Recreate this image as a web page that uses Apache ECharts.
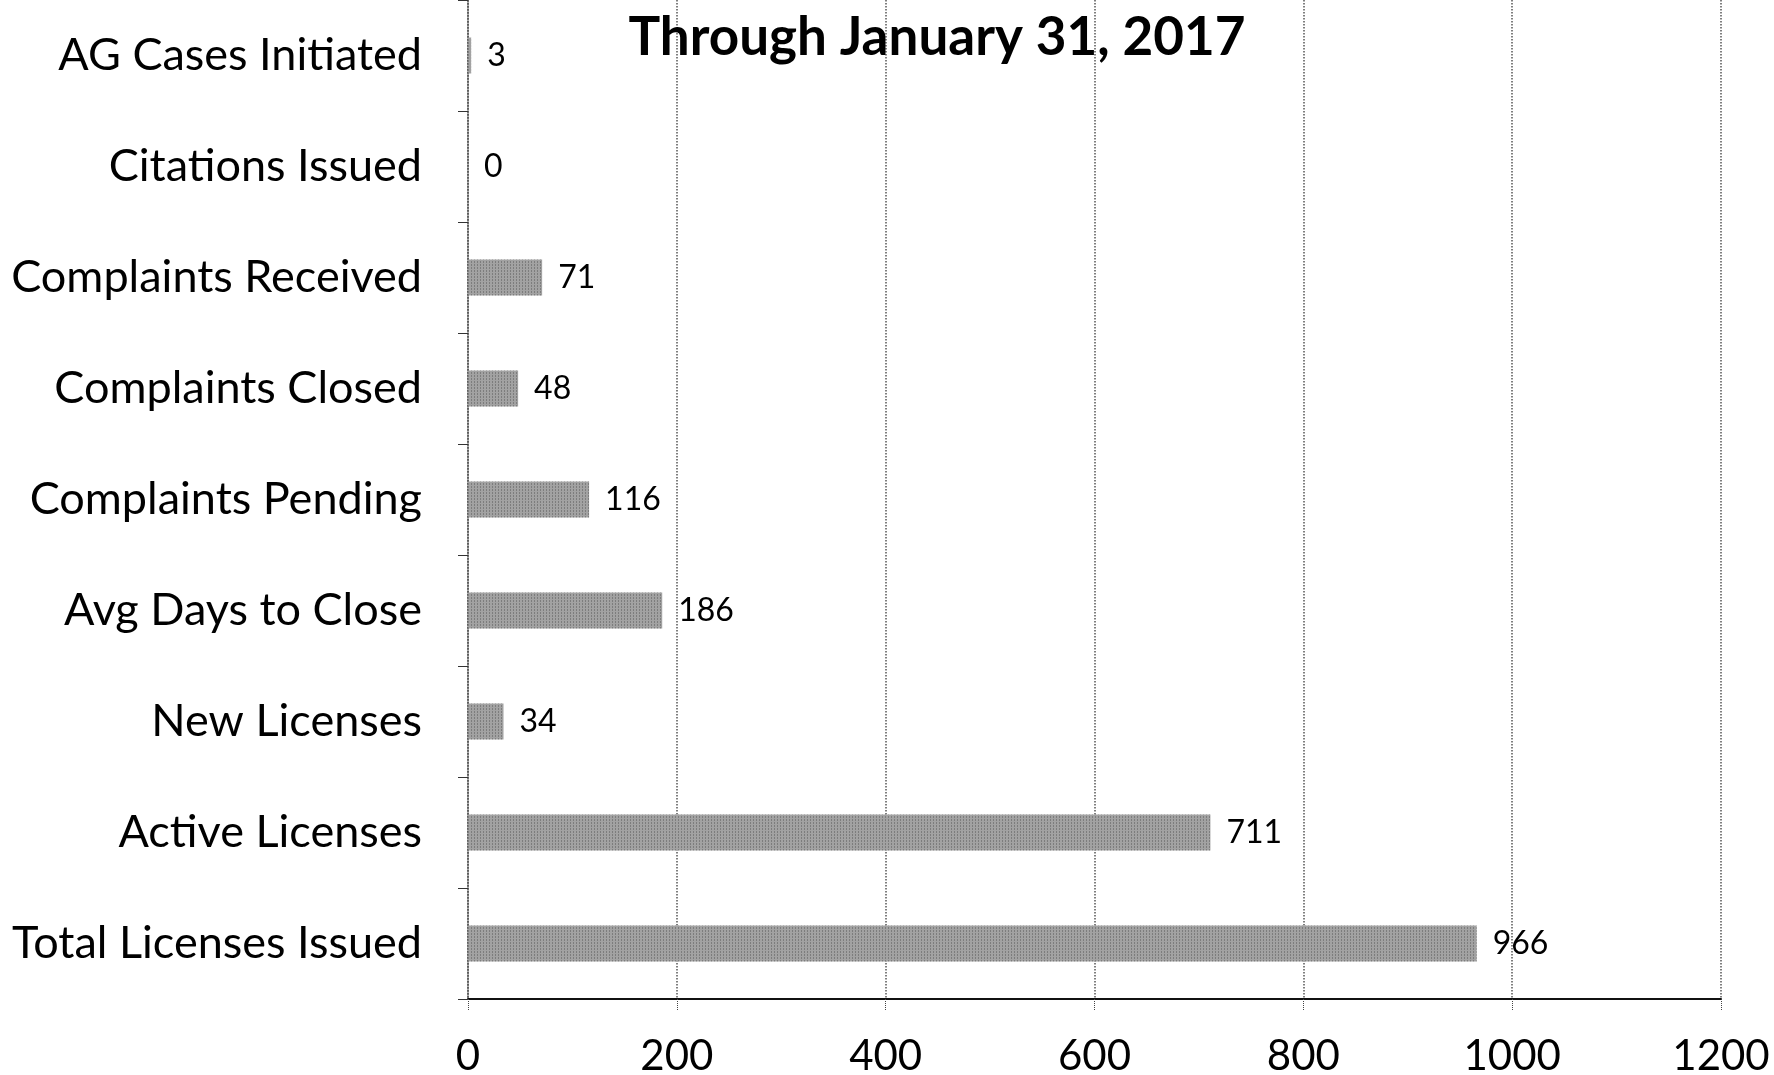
<!DOCTYPE html>
<html>
<head>
<meta charset="utf-8">
<script src="https://cdn.jsdelivr.net/npm/echarts@6/dist/echarts.min.js"></script>
<style>
  html, body { margin: 0; padding: 0; background: #fff; }
  #chart { width: 1774px; height: 1075px; }
</style>
</head>
<body>
<div id="chart"></div>
<script>
const categories = [
  'AG Cases Initiated',
  'Citations Issued',
  'Complaints Received',
  'Complaints Closed',
  'Complaints Pending',
  'Avg Days to Close',
  'New Licenses',
  'Active Licenses',
  'Total Licenses Issued'
];
const values = [3, 0, 71, 48, 116, 186, 34, 711, 966];
const xTicks = [0, 200, 400, 600, 800, 1000, 1200];

var chartDom = document.getElementById('chart');
var myChart = echarts.init(chartDom);
var option;

option = {
  animation: false,
  backgroundColor: '#fff',
  title: {
    text: 'Through January 31, 2017',
    left: 932,
    top: 6,
    textAlign: 'center',
    textStyle: {
      fontFamily: 'Lato',
      fontWeight: 'bold',
      fontSize: 53,
      color: '#000'
    }
  },
  grid: {
    left: 468,
    right: 53,
    top: 0,
    bottom: 76,
    outerBoundsMode: 'none'
  },
  xAxis: {
    type: 'value',
    min: xTicks[0],
    max: xTicks[xTicks.length - 1],
    interval: 200,
    axisLine: { show: true, lineStyle: { color: '#111', width: 2 } },
    axisTick: { show: true, length: 12, lineStyle: { color: '#444', type: 'dotted' } },
    axisLabel: {
      fontFamily: 'Lato',
      fontSize: 42,
      color: '#000',
      margin: 36,
      formatter: function (v) { return String(v); }
    },
    splitLine: {
      show: true,
      lineStyle: { color: '#555', width: 1.5, type: 'dotted' }
    }
  },
  yAxis: {
    type: 'category',
    inverse: true,
    data: categories,
    axisLine: { show: true, lineStyle: { color: '#555', width: 1.5, type: 'dotted' } },
    axisTick: { show: true, length: 10, lineStyle: { color: '#333' } },
    axisLabel: {
      fontFamily: 'Lato',
      fontSize: 45,
      color: '#000',
      margin: 46
    }
  },
  series: [{
    type: 'bar',
    data: values,
    barWidth: 36,
    itemStyle: {
      color: '#a2a2a2',
      decal: {
        symbol: 'rect',
        symbolSize: 1,
        dashArrayX: [1, 2],
        dashArrayY: [2, 1],
        color: 'rgba(70,70,70,0.4)'
      }
    },
    label: {
      show: true,
      position: 'right',
      distance: 16,
      fontFamily: 'Lato',
      fontSize: 32,
      color: '#000'
    }
  }]
};

option && myChart.setOption(option);
</script>
</body>
</html>
